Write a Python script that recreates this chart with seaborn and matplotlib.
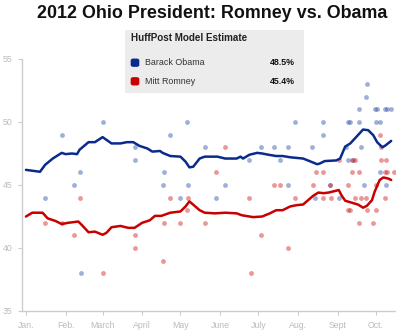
import matplotlib
matplotlib.use("Agg")
import matplotlib.pyplot as plt
import matplotlib.patches as mpatches
import seaborn as sns
import pandas as pd

# ---- data (day of year 2012, value in %) ----
obama_line_day = [0, 11, 15, 21, 28, 31, 36, 40, 42, 49, 54, 60, 67, 74, 79, 84, 89, 95, 99, 105,
                  107, 113, 121, 125, 128, 131, 136, 140, 150, 156, 165, 168, 170, 175, 181, 185,
                  190, 196, 201, 207, 217, 222, 228, 230, 234, 243, 246, 250, 254, 259, 264, 268,
                  272, 275, 279, 281, 286]
obama_line_val = [46.2, 46.05, 46.6, 47.1, 47.55, 47.45, 47.5, 47.45, 47.8, 48.4, 48.4, 48.8, 48.3,
                  48.3, 48.4, 48.4, 48.1, 47.9, 47.65, 47.7, 47.55, 47.3, 47.25, 46.85, 46.4, 46.45,
                  47.1, 47.25, 47.25, 47.1, 47.1, 47.25, 47.1, 47.4, 47.55, 47.5, 47.4, 47.3, 47.3,
                  47.2, 47.1, 46.9, 46.65, 46.7, 46.9, 46.95, 47.1, 48.05, 48.3, 48.85, 49.4, 49.35,
                  48.95, 48.4, 48.0, 48.1, 48.5]

romney_line_day = [0, 5, 13, 17, 23, 28, 33, 41, 44, 49, 54, 60, 63, 67, 74, 80, 85, 91, 97, 101,
                   106, 113, 121, 125, 128, 136, 140, 148, 156, 165, 169, 178, 185, 191, 196, 201,
                   207, 212, 217, 221, 225, 229, 233, 237, 241, 245, 247, 250, 255, 260, 264, 267,
                   271, 273, 277, 280, 284, 286]
romney_line_val = [42.5, 42.8, 42.8, 42.35, 42.15, 41.9, 42.0, 42.1, 41.8, 41.25, 41.3, 41.05, 41.2,
                   41.65, 41.75, 41.6, 41.6, 42.0, 42.2, 42.55, 42.55, 42.8, 42.9, 43.3, 43.7, 43.0,
                   42.8, 42.75, 42.8, 42.75, 42.6, 42.45, 42.5, 42.75, 43.0, 43.0, 43.3, 43.4, 43.45,
                   43.8, 44.15, 44.4, 44.35, 44.4, 44.5, 44.6, 44.2, 43.75, 43.6, 43.45, 43.2, 43.35,
                   43.8, 44.45, 45.4, 45.6, 45.5, 45.4]

obama_poll_day = [15, 28, 38, 42, 43, 60, 85, 85, 107, 108, 113, 121, 126, 127, 140, 149, 156, 175,
                  184, 194, 199, 205, 205, 211, 224, 226, 233, 233, 238, 245, 251, 252, 252, 254,
                  256, 261, 261, 262, 265, 266, 267, 273, 275, 274, 277, 277, 281, 283, 282, 286]
obama_poll_val = [44, 49, 45, 46, 38, 50, 48, 47, 45, 46, 49, 44, 50, 45, 48, 44, 45, 47,
                  48, 48, 47, 48, 45, 50, 48, 44, 50, 49, 45, 44, 48, 47, 50, 50,
                  47, 51, 50, 48, 45, 52, 53, 51, 51, 50, 50, 46, 51, 51, 45, 51]

romney_poll_day = [15, 28, 38, 42, 60, 85, 85, 107, 108, 113, 121, 126, 127, 140, 149, 156, 175,
                   176, 184, 194, 199, 205, 211, 225, 227, 233, 233, 239, 238, 245, 252, 252, 254,
                   255, 255, 258, 258, 261, 261, 262, 266, 267, 272, 274, 274, 277, 278, 278, 281,
                   281, 282, 283, 288]
romney_poll_val = [42, 42, 41, 44, 38, 41, 40, 39, 42, 44, 42, 43, 44, 42, 46, 48, 44,
                   38, 41, 45, 45, 40, 44, 45, 46, 46, 44, 44, 45, 47, 43, 45, 43,
                   47, 46, 47, 44, 46, 42, 44, 44, 43, 42, 45, 43, 49, 48, 47, 44,
                   46, 47, 46, 46]

month_days = [0, 31, 60, 91, 121, 152, 182, 213, 244, 274]
month_labels = ["Jan.", "Feb.", "March", "April", "May", "June", "July", "Aug.", "Sept", "Oct."]
y_ticks = [35, 40, 45, 50, 55]

title = "2012 Ohio President: Romney vs. Obama"
legend_title = "HuffPost Model Estimate"
legend_names = ["Barack Obama", "Mitt Romney"]
legend_values = ["48.5%", "45.4%"]

# ---- style ----
sns.set_style("white")
plt.rcParams["font.family"] = ["Liberation Sans", "DejaVu Sans"]

BLUE_LINE = "#0a2a8c"
RED_LINE = "#c80000"
BLUE_DOT = "#2a4fa8"
RED_DOT = "#d01818"
GRID_GRAY = "#cccccc"
TICK_TXT = "#bbbbbb"

W, H = 410, 332
fig = plt.figure(figsize=(W / 100, H / 100), dpi=100)
fx = lambda px: px / W
fy = lambda py: 1 - py / H

ax = fig.add_axes([fx(22), fy(311), (395 - 22) / W, (311 - 59) / H])

df_op = pd.DataFrame({"day": obama_poll_day, "val": obama_poll_val})
df_rp = pd.DataFrame({"day": romney_poll_day, "val": romney_poll_val})
df_ol = pd.DataFrame({"day": obama_line_day, "val": obama_line_val})
df_rl = pd.DataFrame({"day": romney_line_day, "val": romney_line_val})

sns.scatterplot(data=df_op, x="day", y="val", ax=ax, color=BLUE_DOT, alpha=0.45, s=12,
                linewidth=0, zorder=2)
sns.scatterplot(data=df_rp, x="day", y="val", ax=ax, color=RED_DOT, alpha=0.45, s=12,
                linewidth=0, zorder=2)
sns.lineplot(data=df_ol, x="day", y="val", ax=ax, color=BLUE_LINE, linewidth=1.8, zorder=3)
sns.lineplot(data=df_rl, x="day", y="val", ax=ax, color=RED_LINE, linewidth=1.8, zorder=3)

ax.set_xlim(-3.1, 289)
ax.set_ylim(35, 55)
ax.set_xticks(month_days)
ax.set_xticklabels(month_labels)
ax.set_yticks(y_ticks)
ax.set_yticklabels([str(v) for v in y_ticks])
ax.set_xlabel("")
ax.set_ylabel("")
for side in ["top", "right"]:
    ax.spines[side].set_visible(False)
for side in ["left", "bottom"]:
    ax.spines[side].set_color(GRID_GRAY)
    ax.spines[side].set_linewidth(1.0)
ax.tick_params(axis="both", which="both", direction="out", length=3, width=0.8,
               color=GRID_GRAY, labelcolor=TICK_TXT, labelsize=6.3, pad=4,
               left=True, bottom=True)

# ---- title ----
fig.text(fx(212), fy(14), title, ha="center", va="center", fontsize=12.9,
         fontweight="bold", color="#111111")

# ---- legend box ----
fig.add_artist(mpatches.Rectangle((fx(125), fy(93)), (304 - 125) / W, (93 - 30) / H,
                                  transform=fig.transFigure, facecolor="#ececec",
                                  edgecolor="none", zorder=5))
fig.text(fx(131), fy(38), legend_title, ha="left", va="center", fontsize=7.1,
         fontweight="bold", color="#222222", zorder=6)
for i, (name, val, col) in enumerate(zip(legend_names, legend_values, [BLUE_LINE, RED_LINE])):
    yc = 62.7 + i * 18.6
    fig.add_artist(mpatches.FancyBboxPatch((fx(131.5), fy(yc + 3.5)), 7 / W, 7 / H,
                                           boxstyle="round,pad=0.002,rounding_size=0.006",
                                           transform=fig.transFigure, facecolor=col,
                                           edgecolor="none", zorder=6))
    fig.text(fx(145.5), fy(yc), name, ha="left", va="center", fontsize=6.4,
             color="#333333", zorder=6)
    fig.text(fx(295), fy(yc), val, ha="right", va="center", fontsize=6.4,
             fontweight="bold", color="#111111", zorder=6)

fig.savefig("out.png", dpi=100)
